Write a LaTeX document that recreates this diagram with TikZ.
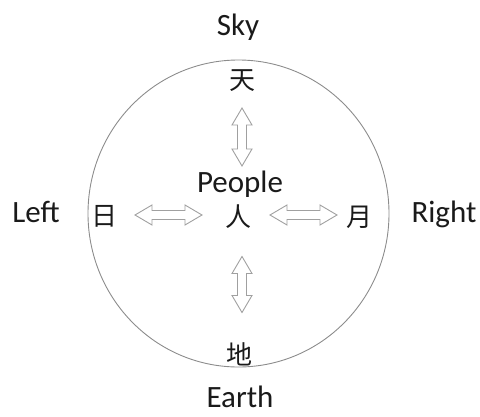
\documentclass[tikz,border=0pt]{standalone}
\usepackage{fontspec}
\setmainfont{Carlito}
\newfontfamily\cjk{Noto Sans CJK SC}
\definecolor{txt}{HTML}{1A1A1A}
\definecolor{ringc}{HTML}{8C8C8C}
\definecolor{arrc}{HTML}{A0A0A0}
\tikzset{
  lbl/.style={anchor=base, inner sep=0pt, text=txt, font=\fontsize{31}{36}\selectfont},
  han/.style={anchor=base, inner sep=0pt, text=txt, font=\cjk\fontsize{26}{30}\selectfont},
  arrline/.style={draw=arrc, line width=0.9pt, line join=miter},
  pics/dbl/.style={code={
    \draw[arrline] (-#1,0) -- (-#1+17,10) -- (-#1+17,4.5) -- (#1-17,4.5) -- (#1-17,10) -- (#1,0)
      -- (#1-17,-10) -- (#1-17,-4.5) -- (-#1+17,-4.5) -- (-#1+17,-10) -- cycle;
  }}
}
\begin{document}
\begin{tikzpicture}[x=1pt,y=-1pt]
\useasboundingbox (0,0) rectangle (480,416);
\draw[ringc, line width=0.9pt] (238.5,213.5) ellipse [x radius=150.5, y radius=153.5];
\node[lbl] (sky) at (238,35) {Sky};
\node[lbl] (left) at (36,222) {Left};
\node[lbl] (right) at (444,222) {Right};
\node[lbl] (earth) at (240,407) {Earth};
\node[lbl] (people) at (240,192) {People};
\node[han] (tian) at (242,89) {天};
\node[han] (ren) at (238,226) {人};
\node[han] (ri) at (104,225) {日};
\node[han] (yue) at (359,226) {月};
\node[han] (di) at (239,364) {地};
\pic[rotate=90] (uparr) at (242,137) {dbl=29};
\pic[rotate=90] (dnarr) at (242,284.5) {dbl=28};
\pic (lfarr) at (168.5,215) {dbl=33.5};
\pic (rtarr) at (303.5,215) {dbl=33.5};
\end{tikzpicture}
\end{document}
